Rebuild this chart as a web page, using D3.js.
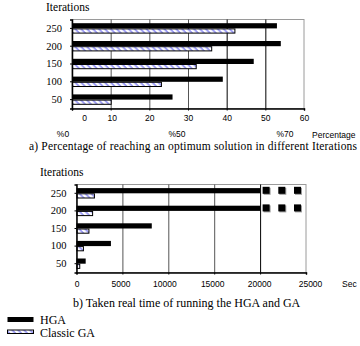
<!DOCTYPE html>
<html>
<head>
<meta charset="utf-8">
<script src="https://cdn.jsdelivr.net/npm/d3@7"></script>
<style>
  body { margin: 0; background: #fff; }
  svg { display: block; }
</style>
</head>
<body>
<svg id="chart" width="360" height="346"></svg>
<script>
// data
const iterations = [250, 200, 150, 100, 50];
const hgaPercent = [53, 54, 47, 39, 26];
const gaPercent = [42, 36, 32, 23, 10];
const hgaTime = [40000, 40000, 8200, 3750, 1000]; // first two run off the scale
const gaTime = [1900, 1700, 1300, 700, 300];
const percentTicks = [0, 10, 20, 30, 40, 50, 60];
const timeTicks = [0, 5000, 10000, 15000, 20000, 25000];
const percentMarks = ["%0", "%50", "%70"];

const SERIF = "'Liberation Serif', 'Times New Roman', 'DejaVu Serif', serif";
const SANS = "'Liberation Sans', Arial, sans-serif";

const svg = d3.select("#chart");

// hatch for the classic GA bars
let defs = svg.append("defs");
let pat = defs.append("pattern")
    .attr("id", "hatch")
    .attr("patternUnits", "userSpaceOnUse")
    .attr("width", 8).attr("height", 4.2)
    .attr("patternTransform", "rotate(45)");
pat.append("rect").attr("width", 8).attr("height", 4.2).attr("fill", "#fff");
pat.append("rect").attr("width", 8).attr("height", 1.9).attr("fill", "#9d9df5");

/**
 * Draws one horizontal grouped bar panel
 */
function panel(opt) {
    let x = d3.scaleLinear().domain(opt.domain).range([opt.left, opt.right]);
    let y = d3.scaleBand().domain(iterations).range([opt.top, opt.bottom]);
    let g = svg.append("g");

    // frame
    g.append("rect")
        .attr("x", opt.left).attr("y", opt.top)
        .attr("width", opt.right - opt.left).attr("height", opt.bottom - opt.top)
        .attr("fill", "none").attr("stroke", "#9a9a9a").attr("stroke-width", 1);

    // grid lines
    g.selectAll(".grid").data(opt.ticks.slice(1, -1)).enter().append("line")
        .attr("x1", d => x(d) + 0.5).attr("x2", d => x(d) + 0.5)
        .attr("y1", opt.top).attr("y2", opt.bottom)
        .attr("stroke", d => opt.darkGrid(d) ? "#000" : "#555")
        .attr("stroke-width", 1);

    // bars
    let hb = 5.2;
    let mid = d => y(d) + y.bandwidth() / 2;
    g.selectAll(".hga").data(iterations).enter().append("rect")
        .attr("x", opt.left)
        .attr("y", d => mid(d) - hb)
        .attr("width", (d, i) => x(Math.min(opt.hga[i], opt.cap)) - opt.left)
        .attr("height", hb)
        .attr("fill", "#000");
    g.selectAll(".ga").data(iterations).enter().append("rect")
        .attr("x", opt.left + 0.5)
        .attr("y", (d) => mid(d) + 0.5)
        .attr("width", (d, i) => x(opt.ga[i]) - opt.left)
        .attr("height", hb - 1)
        .attr("fill", "url(#hatch)")
        .attr("stroke", "#000").attr("stroke-width", 1);

    // break markers for bars that go beyond the axis
    iterations.forEach((d, i) => {
        if (opt.hga[i] <= opt.cap) return;
        for (let k = 0; k < 3; k++) {
            let sx = x(opt.cap) + 2.5 + k * 15.7;
            g.append("rect").attr("x", sx + 1).attr("y", mid(d) - 5.5)
                .attr("width", 7).attr("height", 7).attr("fill", "#9a9a9a");
            g.append("rect").attr("x", sx).attr("y", mid(d) - 6.5)
                .attr("width", 7).attr("height", 7).attr("fill", "#000");
        }
    });

    // axes
    let xAxis = d3.axisBottom(x).tickValues(opt.ticks).tickSize(2).tickFormat(d3.format("d"));
    let ax = g.append("g").attr("transform", `translate(0,${opt.bottom})`).call(xAxis);
    ax.attr("font-family", SANS).attr("font-size", 8.5);
    ax.select(".domain").attr("stroke", "#000").attr("stroke-width", 1.5);
    ax.selectAll(".tick line").attr("stroke", "#000");
    ax.selectAll(".tick text")
        .attr("y", opt.tickPad).attr("dx", (d, i) => opt.nudge[i] || 0);

    let yAxis = d3.axisLeft(y).tickSize(2).tickPadding(8);
    let ay = g.append("g").attr("transform", `translate(${opt.left},0)`).call(yAxis);
    ay.attr("font-family", SERIF).attr("font-size", 10.5);
    ay.select(".domain").attr("stroke", "#000").attr("stroke-width", 1.5);
    ay.selectAll(".tick line").attr("stroke", "#000");

    g.append("text").attr("font-family", SERIF).attr("font-size", 11.5)
        .attr("x", opt.titleX).attr("y", opt.top - 9)
        .text("Iterations");
    return x;
}

panel({
    left: 72, right: 304, top: 19.5, bottom: 108.5,
    domain: [0, 60], ticks: percentTicks, cap: 60,
    hga: hgaPercent, ga: gaPercent,
    darkGrid: d => d >= 40, tickPad: 6, nudge: [12, 1, 0, 0, 0, 0, 0],
    titleX: 46
});

panel({
    left: 76.5, right: 306, top: 184.5, bottom: 272.5,
    domain: [0, 25000], ticks: timeTicks, cap: 20000,
    hga: hgaTime, ga: gaTime,
    darkGrid: d => d == 20000, tickPad: 8, nudge: [0, -2, -4, -2, -1, 4],
    titleX: 40
});

// extra labels of panel a
let markX = [63, 177, 285];
svg.selectAll(".mark").data(percentMarks).enter().append("text")
    .attr("font-family", SANS).attr("font-size", 8.5)
    .attr("text-anchor", "middle")
    .attr("x", (d, i) => markX[i]).attr("y", 136.5)
    .text(d => d);
svg.append("text").attr("font-family", SANS).attr("font-size", 8.5)
    .attr("x", 312).attr("y", 138).text("Percentage");
svg.append("text").attr("font-family", SANS).attr("font-size", 8.5)
    .attr("x", 342).attr("y", 287).text("Sec");

svg.append("text").attr("font-family", SERIF).attr("font-size", 11.5)
    .attr("x", 29).attr("y", 149.5)
    .attr("textLength", 328).attr("lengthAdjust", "spacing")
    .text("a) Percentage of reaching an optimum solution in different Iterations");
svg.append("text").attr("font-family", SERIF).attr("font-size", 12)
    .attr("x", 73).attr("y", 307)
    .text("b) Taken real time of running the HGA and GA");

// legend
let series = [{name: "HGA", fill: "#000"}, {name: "Classic GA", fill: "url(#hatch)"}];
let leg = svg.selectAll(".leg").data(series).enter().append("g")
    .attr("transform", (d, i) => `translate(7,${317 + i * 12.5})`);
leg.append("rect")
    .attr("x", 0.5).attr("y", (d, i) => i ? 0.5 : 0)
    .attr("width", 26).attr("height", (d, i) => i ? 3.5 : 5)
    .attr("fill", d => d.fill)
    .attr("stroke", (d, i) => i ? "#000" : "none");
leg.append("text").attr("font-family", SERIF).attr("font-size", 12)
    .attr("x", 33).attr("y", 7)
    .text(d => d.name);
</script>
</body>
</html>
